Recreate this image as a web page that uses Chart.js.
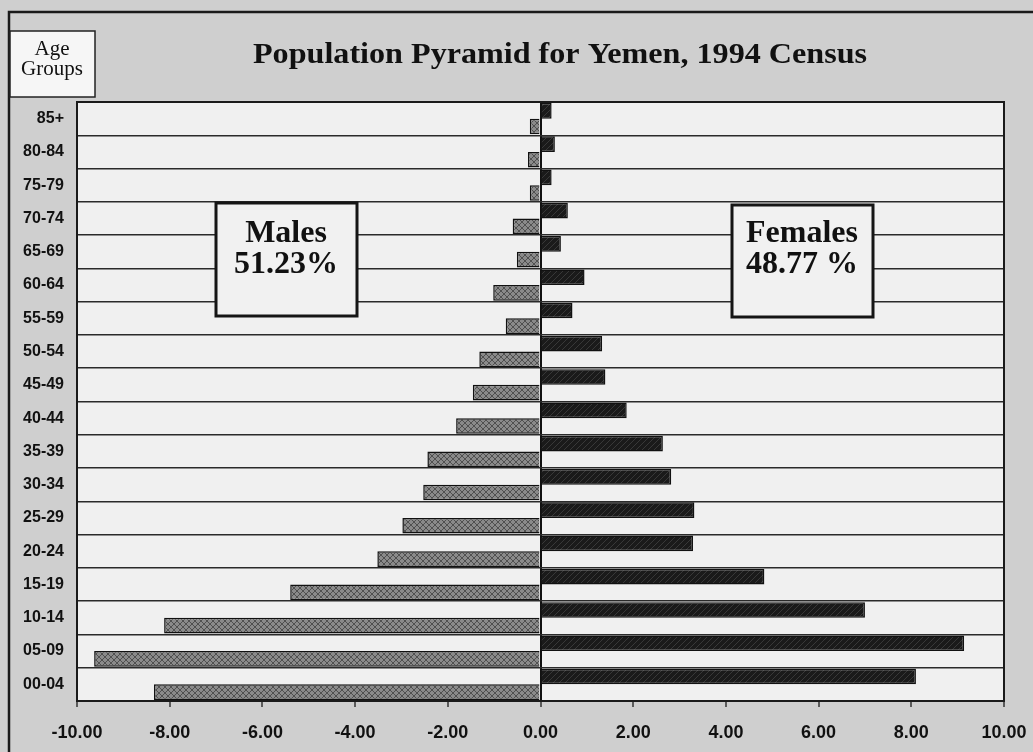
<!DOCTYPE html>
<html>
<head>
<meta charset="utf-8">
<title>Population Pyramid for Yemen, 1994 Census</title>
<script src="https://cdn.jsdelivr.net/npm/chart.js@4.4.0/dist/chart.umd.min.js"></script>
<style>
  html, body { margin: 0; padding: 0; background: #cfcfcf; }
  #wrap { width: 1033px; height: 752px; }
</style>
</head>
<body>
<div id="wrap"><canvas id="pyramid" width="1033" height="752"></canvas></div>
<script>
// age groups, top row first
var ageGroups = ['85+', '80-84', '75-79', '70-74', '65-69', '60-64', '55-59', '50-54', '45-49',
                 '40-44', '35-39', '30-34', '25-29', '20-24', '15-19', '10-14', '05-09', '00-04'];

// percent of total population (males drawn to the left, so negative)
var males   = [-0.23, -0.27, -0.23, -0.60, -0.51, -1.02, -0.75, -1.32, -1.46,
               -1.82, -2.44, -2.53, -2.98, -3.52, -5.40, -8.12, -9.63, -8.34];
var females = [0.24, 0.31, 0.24, 0.59, 0.44, 0.95, 0.69, 1.33, 1.40,
               1.86, 2.64, 2.82, 3.32, 3.29, 4.83, 7.00, 9.14, 8.10];

var xMin = -10, xMax = 10, xStep = 2;

var chartTitle = 'Population Pyramid for Yemen, 1994 Census';
var axisTitle = ['Age', 'Groups'];
var maleBox = ['Males', '51.23%'];
var femaleBox = ['Females', '48.77 %'];

// hatched fills like the printed chart
function hatch(base, line, dense) {
    var c = document.createElement('canvas');
    c.width = 6; c.height = 6;
    var g = c.getContext('2d');
    g.fillStyle = base;
    g.fillRect(0, 0, 6, 6);
    g.strokeStyle = line;
    g.lineWidth = 1;
    g.beginPath();
    g.moveTo(0, 6); g.lineTo(6, 0);
    if (dense) { g.moveTo(0, 0); g.lineTo(6, 6); }
    g.stroke();
    return g.createPattern(c, 'repeat');
}
var maleFill = hatch('#8a8a8a', '#505050', true);
var femaleFill = hatch('#1a1a1a', '#383838', false);

var serif = '"Liberation Serif", "Times New Roman", serif';
var sans = '"Liberation Sans", Arial, sans-serif';

function drawBox(ctx, x1, y1, x2, y2, lines, cx, baselines) {
    ctx.fillStyle = '#f1f1f1';
    ctx.fillRect(x1, y1, x2 - x1, y2 - y1);
    ctx.strokeStyle = '#151515';
    ctx.lineWidth = 3;
    ctx.strokeRect(x1, y1, x2 - x1, y2 - y1);
    ctx.fillStyle = '#111';
    ctx.font = 'bold 32px ' + serif;
    ctx.textAlign = 'center';
    ctx.textBaseline = 'alphabetic';
    for (var i = 0; i < lines.length; i++) ctx.fillText(lines[i], cx, baselines[i]);
}

var decor = {
    id: 'decor',
    beforeDraw: function (chart) {
        var ctx = chart.ctx, a = chart.chartArea;
        ctx.save();
        ctx.fillStyle = '#cfcfcf';
        ctx.fillRect(0, 0, chart.width, chart.height);
        ctx.fillStyle = '#f0f0f0';
        ctx.fillRect(a.left, a.top, a.right - a.left, a.bottom - a.top);
        ctx.restore();
    },
    afterDraw: function (chart) {
        var ctx = chart.ctx, a = chart.chartArea;
        ctx.save();
        // outer frame
        ctx.strokeStyle = '#1a1a1a';
        ctx.lineWidth = 2.5;
        ctx.beginPath();
        ctx.moveTo(1040, 12); ctx.lineTo(9, 12); ctx.lineTo(9, 760);
        ctx.stroke();
        // plot border
        ctx.lineWidth = 2;
        ctx.strokeRect(a.left, a.top, a.right - a.left, a.bottom - a.top);
        // title, stretched a little like the print
        ctx.fillStyle = '#111';
        ctx.font = 'bold 30px ' + serif;
        ctx.textAlign = 'center';
        ctx.textBaseline = 'alphabetic';
        var sx = 614 / ctx.measureText(chartTitle).width;
        ctx.save();
        ctx.translate(560, 63);
        ctx.scale(sx, 1);
        ctx.fillText(chartTitle, 0, 0);
        ctx.restore();
        // age groups box
        ctx.fillStyle = '#f6f6f6';
        ctx.fillRect(10, 31, 85, 66);
        ctx.strokeStyle = '#222';
        ctx.lineWidth = 1.5;
        ctx.strokeRect(10, 31, 85, 66);
        ctx.fillStyle = '#111';
        ctx.font = '21px ' + serif;
        ctx.fillText(axisTitle[0], 52, 55);
        ctx.fillText(axisTitle[1], 52, 75);
        // share boxes
        drawBox(ctx, 216, 203, 357, 316, maleBox, 286, [242, 273]);
        drawBox(ctx, 732, 205, 873, 317, femaleBox, 802, [242, 273]);
        ctx.restore();
    }
};

new Chart(document.getElementById('pyramid'), {
    type: 'bar',
    data: {
        labels: ageGroups,
        datasets: [{
            label: 'Females',
            data: females,
            backgroundColor: femaleFill,
            borderColor: '#111',
            borderWidth: 1.5,
            barPercentage: 1.0,
            categoryPercentage: 0.94
        }, {
            label: 'Males',
            data: males,
            backgroundColor: maleFill,
            borderColor: '#111',
            borderWidth: 1.5,
            barPercentage: 1.0,
            categoryPercentage: 0.94
        }]
    },
    options: {
        indexAxis: 'y',
        responsive: false,
        animation: false,
        devicePixelRatio: 1,
        layout: { padding: { left: 10, right: 29, top: 102, bottom: 0 } },
        plugins: {
            legend: { display: false },
            title: { display: false },
            tooltip: { enabled: false }
        },
        scales: {
            x: {
                type: 'linear',
                min: xMin,
                max: xMax,
                ticks: {
                    stepSize: xStep,
                    padding: 15,
                    color: '#111',
                    font: { family: sans, size: 18, weight: 'bold' },
                    callback: function (v) { return v.toFixed(2); }
                },
                grid: {
                    color: function (c) { return c.tick && c.tick.value === 0 ? '#111' : 'rgba(0,0,0,0)'; },
                    lineWidth: 2,
                    tickColor: '#333',
                    tickWidth: 1.5,
                    tickLength: 6
                },
                border: { display: false },
                afterFit: function (s) {
                    s.height = 51;
                    s.paddingLeft = 0;
                    s.paddingRight = 0;
                }
            },
            y: {
                type: 'category',
                ticks: {
                    padding: 13,
                    color: '#111',
                    font: { family: sans, size: 16, weight: 'bold' }
                },
                grid: {
                    color: '#2a2a2a',
                    lineWidth: 1.5,
                    drawTicks: false
                },
                border: { display: false },
                afterFit: function (s) {
                    s.width = 67;
                    s.paddingTop = 0;
                    s.paddingBottom = 0;
                }
            }
        }
    },
    plugins: [decor]
});
</script>
</body>
</html>
